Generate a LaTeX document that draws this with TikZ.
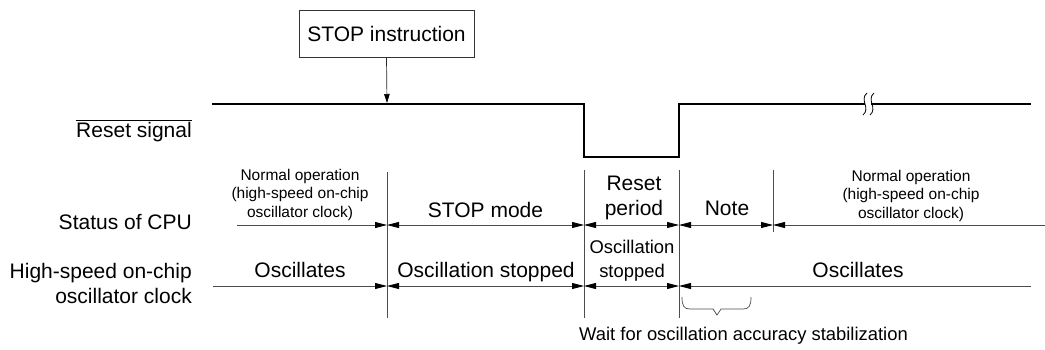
\documentclass[tikz,border=0pt]{standalone}
\usepackage{fontspec}
\setmainfont{Liberation Sans}
\usetikzlibrary{arrows.meta}
\newcommand\myovl[1]{$\overline{\hbox{#1}}$}
\begin{document}
\begin{tikzpicture}[x=1pt,y=-1pt,
  big/.style={font=\fontsize{21}{25}\selectfont, inner sep=0pt, align=center, text=black},
  mid/.style={font=\fontsize{18.4}{24}\selectfont, inner sep=0pt, align=center, text=black},
  small/.style={font=\fontsize{15.5}{18.5}\selectfont, inner sep=0pt, align=center, text=black},
  gridline/.style={draw=black!70, line width=0.8pt},
  tipr/.style={gridline, -{Triangle[length=12pt,width=6pt,color=black]}},
  tipb/.style={gridline, {Triangle[length=12pt,width=6pt,color=black]}-{Triangle[length=12pt,width=6pt,color=black]}},
  sig/.style={draw=black, line width=1.6pt},
  ]
\useasboundingbox (0,0) rectangle (1045,349);

% STOP instruction box and arrow
\node[draw=black!80, line width=0.7pt, minimum width=175pt, minimum height=47pt, big] (stop) at (386.5,33.5) {STOP instruction};
\coordinate (stoptip) at (387,103);
\draw[black!85, line width=0.7pt, -{Triangle[length=9pt,width=5.5pt,color=black]}] (stop.south) -- (stoptip);

% Reset signal waveform
\coordinate (r0) at (212,104);
\coordinate (r1) at (584,104);
\coordinate (r2) at (584,157);
\coordinate (r3) at (679,157);
\coordinate (r4) at (679,104);
\coordinate (r5) at (1031,104);
\draw[sig] (r0) -- (r1) -- (r2) -- (r3) -- (r4) -- (r5);
% break mark
\fill[white] (865,100) rectangle (871,108);
\draw[black, line width=0.8pt] (867,93) .. controls (859,100) and (871,108) .. (863,115);
\draw[black, line width=0.8pt] (874,93) .. controls (866,100) and (878,108) .. (870,115);

% Row labels
\node[big, anchor=base east] (lreset) at (192,137) {\myovl{Reset signal}};
\node[big, anchor=base east] (lcpu) at (192,229) {Status of CPU};
\node[big, anchor=base east, align=right] (losc) at (192,303) {High-speed on-chip\\oscillator clock};

% Vertical lines
\coordinate (v1t) at (387,172); \coordinate (v1b) at (387,318);
\coordinate (v2t) at (584,170); \coordinate (v2b) at (584,318);
\coordinate (v3t) at (679,170); \coordinate (v3b) at (679,318);
\coordinate (v4t) at (773,170); \coordinate (v4b) at (773,232);
\draw[gridline] (v1t) -- (v1b);
\draw[gridline] (v2t) -- (v2b);
\draw[gridline] (v3t) -- (v3b);
\draw[gridline] (v4t) -- (v4b);

% Status of CPU row
\coordinate (s0) at (237,225); \coordinate (s1) at (387,225);
\coordinate (s2) at (584,225); \coordinate (s3) at (679,225);
\coordinate (s4) at (773,225); \coordinate (s5) at (1045,225);
\draw[tipr] (s0) -- (s1);
\draw[tipb] (s1) -- (s2);
\draw[tipb] (s2) -- (s3);
\draw[tipb] (s3) -- (s4);
\draw[tipr] (s5) -- (s4);

% Oscillator row
\coordinate (o0) at (213,286); \coordinate (o1) at (387,286);
\coordinate (o2) at (584,286); \coordinate (o3) at (679,286);
\coordinate (o5) at (1031,286);
\draw[tipr] (o0) -- (o1);
\draw[tipb] (o1) -- (o2);
\draw[tipb] (o2) -- (o3);
\draw[tipr] (o5) -- (o3);

% Status texts
\node[small, anchor=base] (tn1) at (300,217) {Normal operation\\(high-speed on-chip\\oscillator clock)};
\node[big, anchor=base] (tstop) at (485.5,217) {STOP mode};
\node[big, anchor=base] (treset) at (634,215) {Reset\\period};
\node[big, anchor=base] (tnote) at (727,215) {Note};
\node[small, anchor=base] (tn2) at (911,218) {Normal operation\\(high-speed on-chip\\oscillator clock)};

% Oscillator texts
\node[big, anchor=base] (to1) at (300,277) {Oscillates};
\node[big, anchor=base] (to2) at (486,277) {Oscillation stopped};
\node[mid, anchor=base] (to3) at (632,277) {Oscillation\\stopped};
\node[big, anchor=base] (to4) at (858,277) {Oscillates};

% Brace and note
\coordinate (b0) at (682,297);
\coordinate (b1) at (751,297);
\coordinate (btip) at (717,315);
\draw[black!70, line width=0.7pt] (b0) .. controls (682,306) and (684,309) .. (690,309) -- (713,309) -- (btip) -- (721,309) -- (743,309) .. controls (749,309) and (751,306) .. (b1);
\node[mid, anchor=base] (twait) at (743.5,340) {Wait for oscillation accuracy stabilization};
\end{tikzpicture}
\end{document}
